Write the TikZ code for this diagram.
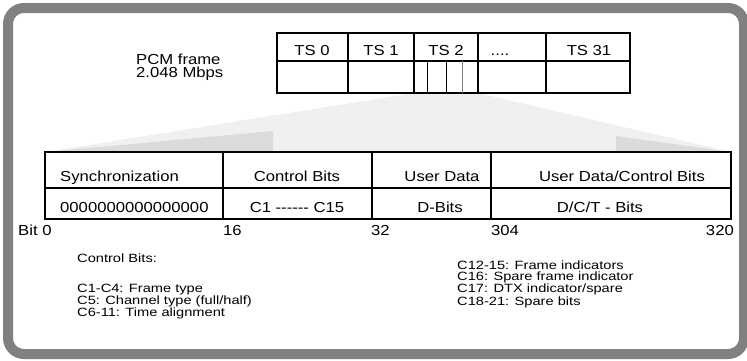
\documentclass[tikz,border=0pt]{standalone}
\usepackage{fontspec}
\setmainfont[FakeStretch=1.15]{Liberation Sans}
\newfontfamily\notefont[FakeStretch=1.22]{Liberation Sans}
\begin{document}
\begin{tikzpicture}[x=1pt,y=-1pt,
  lbl/.style={font=\fontsize{14.5}{13}\selectfont, inner sep=0pt, anchor=base},
  lblw/.style={lbl, anchor=base west},
  note/.style={font=\notefont\fontsize{12}{10.9}\selectfont, inner sep=0pt, anchor=base west, align=left},
  tline/.style={line width=1.1pt},
  subline/.style={line width=0.8pt}]
\useasboundingbox (0,0) rectangle (747,360);
% frame band
\draw[black!50, line width=10pt, rounded corners=16pt] (8,8) rectangle (744,354);
% wedge
\fill[gray!12] (414,93) -- (478,93) -- (731,152) -- (45,152) -- cycle;
\fill[gray!28] (45,152) -- (273,131) -- (273,152) -- cycle;
\fill[gray!28] (616,136) -- (731,152) -- (616,152) -- cycle;
% top table
\draw[tline] (277,33) rectangle (630,93);
\draw[tline] (277,61) -- (630,61);
\foreach \x in {348,414,478,546} \draw[tline] (\x,33) -- (\x,93);
\draw[subline] (427,61) -- (427,93);
\draw[subline] (446,61) -- (446,93);
\draw[subline, gray] (462,61) -- (462,93);
\node[lbl] (ts0) at (312,55) {TS 0};
\node[lbl] (ts1) at (381,55) {TS 1};
\node[lbl] (ts2) at (446,55) {TS 2};
\node[lbl] (tsd) at (500,55) {....};
\node[lbl] (ts31) at (589,55) {TS 31};
\node[lblw, align=left] (pcm) at (136,77) {PCM frame\\2.048 Mbps};
% lower table
\draw[tline] (45,152) rectangle (731,219);
\draw[tline] (45,188) -- (731,188);
\foreach \x in {223,372,491} \draw[tline] (\x,152) -- (\x,219);
\node[lblw] (sync) at (60,181) {Synchronization};
\node[lblw] (zeros) at (60,212) {0000000000000000};
\node[lbl] (cb) at (297,181) {Control Bits};
\node[lbl] (c115) at (297,212) {C1 -{}-{}-{}-{}-{}- C15};
\node[lbl] (ud) at (442,181) {User Data};
\node[lbl] (db) at (440,212) {D-Bits};
\node[lbl] (udcb) at (622,181) {User Data/Control Bits};
\node[lbl] (dct) at (600,212) {D/C/T - Bits};
% bit numbers
\node[lblw] (b0) at (18,235) {Bit 0};
\node[lblw] (b16) at (223,235) {16};
\node[lblw] (b32) at (371,235) {32};
\node[lblw] (b304) at (491,235) {304};
\node[lbl, anchor=base east] (b320) at (734,235) {320};
% notes (base = baseline of last line)
\node[note] (nh) at (77,262.7) {Control Bits:};
\node[note] (nl) at (77,316.5) {C1-C4: Frame type\\C5: Channel type (full/half)\\C6-11: Time alignment};
\node[note] (nr) at (457,305) {C12-15: Frame indicators\\C16: Spare frame indicator\\C17: DTX indicator/spare\\C18-21: Spare bits};
\end{tikzpicture}
\end{document}
